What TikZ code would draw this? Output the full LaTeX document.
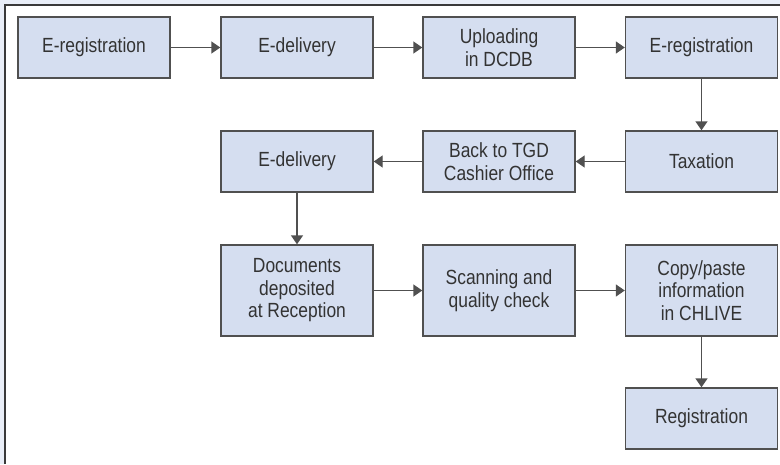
\documentclass[tikz,border=0pt]{standalone}
\usepackage{fontspec}
\setmainfont{Liberation Sans}
\newfontfamily\boxfont[FakeStretch=0.85]{Liberation Sans}
\usetikzlibrary{arrows.meta}
\definecolor{bgstrip}{HTML}{E9EEF8}
\definecolor{boxfill}{HTML}{D5DEF0}
\definecolor{boxline}{HTML}{505050}
\definecolor{txt}{HTML}{333333}
\definecolor{framec}{HTML}{3A3A3A}
\tikzset{
  stepbox/.style={draw=boxline, fill=boxfill, line width=1.4pt,
    minimum width=152pt, minimum height=61pt, inner sep=0pt,
    align=center, text=txt, font=\boxfont\fontsize{20.5}{22.5}\selectfont},
  tallbox/.style={stepbox, minimum height=91pt},
  conn/.style={draw=boxline, line width=1.4pt, -{Triangle[length=9pt,width=12pt]}}
}
\begin{document}
\begin{tikzpicture}[x=1pt,y=-1pt]
\useasboundingbox (0,0) rectangle (780,464);
\fill[bgstrip] (0,0) rectangle (780,464);
\fill[white] (5,5) rectangle (780,464);
\draw[framec, line width=2.5pt] (5,464) -- (5,5) -- (780,5);

\node[stepbox] (r1) at (94,47.5) {E-registration};
\node[stepbox] (d1) at (297,47.5) {E-delivery};
\node[stepbox] (up) at (499,47.5) {Uploading\\in DCDB};
\node[stepbox] (r2) at (701.5,47.5) {E-registration};

\node[stepbox] (tax) at (701.5,161.5) {Taxation};
\node[stepbox] (back) at (499,161.5) {Back to TGD\\Cashier Office};
\node[stepbox] (d2) at (297,161.5) {E-delivery};

\node[tallbox] (doc) at (297,290.5) {Documents\\deposited\\at Reception};
\node[tallbox] (scan) at (499,290.5) {Scanning and\\quality check};
\node[tallbox] (copy) at (701.5,290.5) {Copy/paste\\information\\in CHLIVE};

\node[stepbox] (reg) at (701.5,418.5) {Registration};

\draw[conn] (r1) -- (d1);
\draw[conn] (d1) -- (up);
\draw[conn] (up) -- (r2);
\draw[conn] (r2) -- (tax);
\draw[conn] (tax) -- (back);
\draw[conn] (back) -- (d2);
\draw[conn] (d2) -- (doc);
\draw[conn] (doc) -- (scan);
\draw[conn] (scan) -- (copy);
\draw[conn] (copy) -- (reg);
\end{tikzpicture}
\end{document}
